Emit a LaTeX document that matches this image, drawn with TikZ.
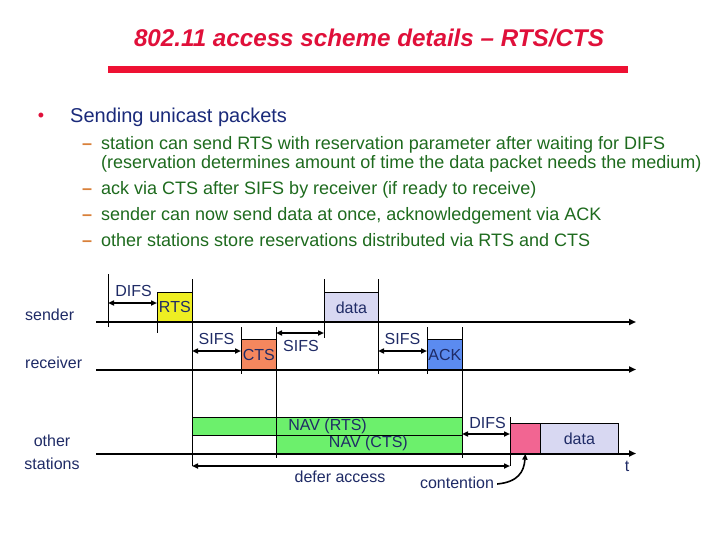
\documentclass[tikz,border=0pt]{standalone}
\usepackage{fontspec}
\setmainfont{Liberation Sans}
\usetikzlibrary{arrows.meta}
\definecolor{titlered}{HTML}{E0103A}
\definecolor{barred}{HTML}{EE1133}
\definecolor{headblue}{HTML}{1A2A7A}
\definecolor{itemgreen}{HTML}{1E6B1E}
\definecolor{dashorange}{HTML}{D9803A}
\definecolor{dtext}{HTML}{1F2B66}
\definecolor{rtsyellow}{HTML}{EEEE22}
\definecolor{ctsorange}{HTML}{F4875E}
\definecolor{ackblue}{HTML}{5B8BF0}
\definecolor{datalav}{HTML}{D8D8F2}
\definecolor{navgreen}{HTML}{6CF06C}
\definecolor{contpink}{HTML}{F26592}
\tikzset{
  timeline/.style={line width=2pt,-{Triangle[length=7pt,width=6pt]}},
  tick/.style={line width=0.8pt},
  span/.style={line width=1.6pt,{Triangle[length=6pt,width=5pt]}-{Triangle[length=6pt,width=5pt]}},
  pkt/.style={draw,line width=0.7pt,inner sep=0pt,anchor=north west,font=\fontsize{16}{16}\selectfont,text=dtext},
  lbl/.style={inner sep=0pt,font=\fontsize{16}{16}\selectfont,text=dtext},
  item/.style={inner sep=0pt,anchor=base west,font=\fontsize{18}{18}\selectfont,text=itemgreen},
  dashmark/.style={inner sep=0pt,anchor=base west,font=\fontsize{18}{18}\selectfont\bfseries,text=dashorange}
}
\begin{document}
\begin{tikzpicture}[x=1pt,y=-1pt]
\useasboundingbox[fill=white] (0,0) rectangle (720,540);
% title
\node[inner sep=0pt,anchor=base,text=titlered,font=\fontsize{24.2}{24.2}\selectfont\bfseries\itshape] (title) at (369,46.7) {802.11 access scheme details – RTS/CTS};
\fill[barred] (108,66.5) rectangle (628,73.5);
% bullets
\node[inner sep=0pt,text=titlered,font=\fontsize{18}{18}\selectfont] (bul) at (41,117) {•};
\node[inner sep=0pt,anchor=base west,text=headblue,font=\fontsize{20}{20}\selectfont] (head) at (70,123) {Sending unicast packets};
\node[dashmark] (d1) at (82,150) {–};
\node[item] (i1) at (101,150) {station can send RTS with reservation parameter after waiting for DIFS};
\node[item] (i1b) at (101,169) {(reservation determines amount of time the data packet needs the medium)};
\node[dashmark] (d2) at (82,195) {–};
\node[item] (i2) at (101,195) {ack via CTS after SIFS by receiver (if ready to receive)};
\node[dashmark] (d3) at (82,221) {–};
\node[item] (i3) at (101,221) {sender can now send data at once, acknowledgement via ACK};
\node[dashmark] (d4) at (82,247) {–};
\node[item] (i4) at (101,247) {other stations store reservations distributed via RTS and CTS};
% station labels
\node[lbl,anchor=west] (lsend) at (25,315) {sender};
\node[lbl,anchor=west] (lrecv) at (25,363) {receiver};
\node[lbl] (lother) at (52,441) {other};
\node[lbl] (lstat) at (52,464) {stations};
% boxes
\node[pkt,fill=rtsyellow,minimum width=35pt,minimum height=30pt] (rts) at (157,292) {RTS};
\node[pkt,fill=datalav,minimum width=54pt,minimum height=30pt] (data1) at (324,292) {data};
\node[pkt,fill=ctsorange,minimum width=35pt,minimum height=31pt] (cts) at (241,339) {CTS};
\node[pkt,fill=ackblue,minimum width=35pt,minimum height=31pt] (ack) at (427,339) {ACK};
\node[pkt,fill=navgreen,minimum width=270pt,minimum height=18pt] (navr) at (192,417) {};
\node[pkt,fill=navgreen,minimum width=186pt,minimum height=18pt] (navc) at (276,435) {};
\node[pkt,fill=contpink,minimum width=30pt,minimum height=30pt] (pink) at (510,423) {};
\node[pkt,fill=datalav,minimum width=78pt,minimum height=30pt] (data2) at (540,423) {data};
\node[lbl,anchor=east] (tnavr) at (367,426) {NAV (RTS)};
\node[lbl,anchor=east] (tnavc) at (408,443) {NAV (CTS)};
% timelines
\coordinate (s0) at (96,322); \coordinate (s1) at (636,322);
\coordinate (r0) at (96,369.5); \coordinate (r1) at (636,369.5);
\coordinate (o0) at (96,453.5); \coordinate (o1) at (636,453.5);
\draw[timeline] (s0) -- (s1);
\draw[timeline] (r0) -- (r1);
\draw[timeline] (o0) -- (o1);
% ticks
\draw[tick] (108,274) -- (108,327);
\draw[tick] (157,292) -- (157,333);
\draw[tick] (192,279) -- (192,466);
\draw[tick] (241,327) -- (241,374);
\draw[tick] (276,327) -- (276,458);
\draw[tick] (324,279) -- (324,338);
\draw[tick] (378,279) -- (378,374);
\draw[tick] (427,327) -- (427,374);
\draw[tick] (462,327) -- (462,458);
\draw[tick] (510,417) -- (510,466);
% spans
\coordinate (a1) at (108,303); \coordinate (b1) at (157,303);
\draw[span] (a1) -- (b1);
\node[lbl] (ldifs1) at (133.5,291) {DIFS};
\coordinate (a2) at (192,351); \coordinate (b2) at (241,351);
\draw[span] (a2) -- (b2);
\node[lbl] (lsifs1) at (216.5,339) {SIFS};
\coordinate (a3) at (276,333); \coordinate (b3) at (324,333);
\draw[span] (a3) -- (b3);
\node[lbl] (lsifs2) at (301,346) {SIFS};
\coordinate (a4) at (378,351); \coordinate (b4) at (427,351);
\draw[span] (a4) -- (b4);
\node[lbl] (lsifs3) at (402.5,339) {SIFS};
\coordinate (a5) at (462,434); \coordinate (b5) at (510,434);
\draw[span] (a5) -- (b5);
\node[lbl] (ldifs2) at (487.5,423) {DIFS};
\coordinate (a6) at (192,466); \coordinate (b6) at (510,466);
\draw[span] (a6) -- (b6);
\node[lbl] (ldefer) at (340,477) {defer access};
% t and contention
\node[lbl] (tlab) at (627,466) {t};
\node[lbl] (lcont) at (457,483) {contention};
\draw[line width=1.6pt,-{Triangle[length=6pt,width=5pt]}] (lcont.east) ++(3,1) .. controls (518,482) and (524,472) .. (pink.south);
\end{tikzpicture}
\end{document}
